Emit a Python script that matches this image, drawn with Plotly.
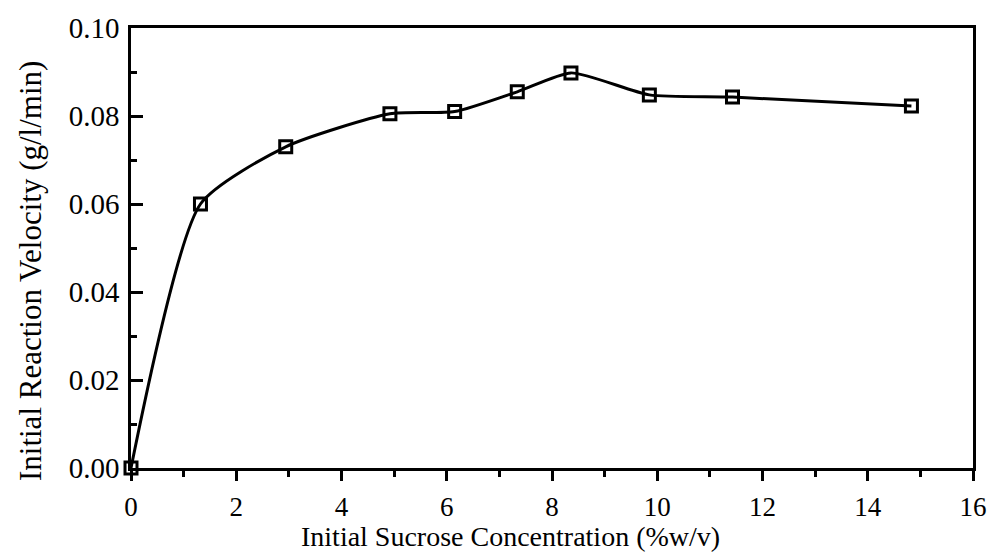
import plotly.graph_objects as go

sucrose = [0.0, 1.32, 2.94, 4.92, 6.15, 7.34, 8.36, 9.85, 11.43, 14.83]
velocity = [0.0, 0.060, 0.073, 0.0805, 0.081, 0.0855, 0.0898, 0.0848, 0.0843, 0.0823]
x_ticks = [0, 2, 4, 6, 8, 10, 12, 14, 16]
y_ticks = [0.0, 0.02, 0.04, 0.06, 0.08, 0.10]
y_tick_text = ["0.00", "0.02", "0.04", "0.06", "0.08", "0.10"]

font = "Liberation Serif, Times New Roman, serif"

fig = go.Figure()
fig.add_trace(go.Scatter(
    x=sucrose, y=velocity, mode="lines+markers",
    line=dict(color="black", width=3, shape="spline", smoothing=0.6),
    marker=dict(symbol="square-open", size=12, color="black", line=dict(width=3)),
    showlegend=False, cliponaxis=False,
))

fig.update_layout(
    width=999, height=555,
    margin=dict(l=131, r=25, t=17, b=87),
    paper_bgcolor="white", plot_bgcolor="white",
    font=dict(family=font, color="black", size=27),
)
fig.update_xaxes(
    range=[0, 16], tickvals=x_ticks, ticks="outside", ticklen=10, tickwidth=2.5,
    tickcolor="black", showgrid=False, zeroline=False,
    showline=True, linecolor="black", linewidth=2.5, mirror=True,
    minor=dict(dtick=1, ticks="outside", ticklen=6, tickwidth=2.5, tickcolor="black", showgrid=False),
    tickfont=dict(size=27), ticklabelstandoff=3,
)
fig.update_yaxes(
    range=[0, 0.10], tickvals=y_ticks, ticktext=y_tick_text, ticks="inside", ticklen=12, tickwidth=2.5,
    tickcolor="black", showgrid=False, zeroline=False,
    showline=True, linecolor="black", linewidth=2.5, mirror=True,
    minor=dict(dtick=0.01, ticks="inside", ticklen=6, tickwidth=2.5, tickcolor="black", showgrid=False),
    tickfont=dict(size=29), ticklabelstandoff=3,
)
fig.add_annotation(
    text="Initial Sucrose Concentration (%w/v)", xref="paper", yref="paper",
    x=(511 - 131) / (999 - 131 - 25), y=(555 - 87 - 538) / (555 - 87 - 17),
    showarrow=False, font=dict(size=28, family=font), xanchor="center", yanchor="middle",
)
fig.add_annotation(
    text="Initial Reaction Velocity (g/l/min)", xref="paper", yref="paper",
    x=(31 - 131) / (999 - 131 - 25), y=(555 - 87 - 266) / (555 - 87 - 17),
    showarrow=False, font=dict(size=31, family=font), textangle=-90,
    xanchor="center", yanchor="middle",
)

fig.write_html("out.html")
